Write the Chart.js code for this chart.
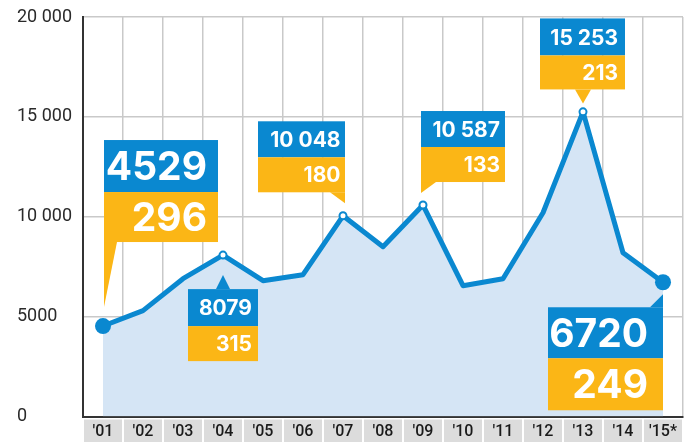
<!DOCTYPE html>
<html>
<head>
<meta charset="utf-8">
<script src="https://cdn.jsdelivr.net/npm/chart.js@4/dist/chart.umd.min.js"></script>
<style>
html,body{margin:0;padding:0;background:#fff;}
canvas{display:block;}
</style>
</head>
<body>
<canvas id="c" width="696" height="442"></canvas>
<script>
// ---- data ----
const categories = ["'01","'02","'03","'04","'05","'06","'07","'08","'09","'10","'11","'12","'13","'14","'15*"];
const values = [4529, 5300, 6900, 8079, 6800, 7100, 10048, 8500, 10587, 6550, 6900, 10200, 15253, 8200, 6720];
const yTickValues = [0, 5000, 10000, 15000, 20000];
const yTickLabels = ['0', '5000', '10 000', '15 000', '20 000'];
const calloutIndex = [0, 3, 6, 8, 12, 14];
const calloutTop = ['4529', '8079', '10 048', '10 587', '15 253', '6720'];
const calloutBottom = ['296', '315', '180', '133', '213', '249'];

// ---- styling ----
const BLUE = '#0a88d0';
const YELLOW = '#fbb616';
const FILL = '#d5e5f5';
const GRID = '#c9c9c9';
const calloutStyle = [
  {dx: 1, dy: -186, w: 114, bh: 52, yh: 50, font: 39, pad: 11, tail: [[1,-84],[14,-84],[1,-19]], tailColor: YELLOW},
  {dx: -35, dy: 34, w: 70, bh: 37, yh: 35, font: 21, pad: 6, tail: [[-7,34],[7,34],[0,20]], tailColor: BLUE},
  {dx: -85, dy: -94.5, w: 87, bh: 36, yh: 35, font: 21, pad: 4.5, tail: [[-13,-23.5],[2,-23.5],[2,-12.5]], tailColor: YELLOW},
  {dx: -2, dy: -94, w: 84, bh: 36, yh: 35, font: 21, pad: 5, tail: [[-2,-23],[13,-23],[-2,-12]], tailColor: YELLOW},
  {dx: -43, dy: -93.4, w: 85, bh: 37, yh: 34, font: 21, pad: 7, tail: [[-8,-22.4],[8,-22.4],[0,-8.4]], tailColor: YELLOW},
  {dx: -115, dy: 25, w: 115, bh: 51, yh: 52, font: 39, pad: 15, tail: [[-13,25],[0,25],[0,12]], tailColor: BLUE}
];
const pointRadius = values.map((v, i) => (i === 0 || i === values.length - 1) ? 8 : (calloutIndex.includes(i) ? 3.5 : 0));
const pointBg = values.map((v, i) => (i === 0 || i === values.length - 1) ? BLUE : '#fff');
const pointBorderW = values.map((v, i) => (i === 0 || i === values.length - 1) ? 0 : 2);

const labelBoxes = {
  id: 'labelBoxes',
  beforeDraw(chart) {
    const ctx = chart.ctx, x = chart.scales.x, area = chart.chartArea;
    ctx.save();
    ctx.fillStyle = '#dcdcdc';
    const n = categories.length;
    for (let i = 0; i < n; i++) {
      const c = x.getPixelForValue(i);
      const half = (x.getPixelForValue(1) - x.getPixelForValue(0)) / 2;
      ctx.fillRect(c - half + 1, area.bottom + 3, half * 2 - 2, chart.height - area.bottom - 3);
    }
    ctx.restore();
  }
};

const callouts = {
  id: 'callouts',
  afterDatasetsDraw(chart) {
    const ctx = chart.ctx, xs = chart.scales.x, ys = chart.scales.y;
    ctx.save();
    calloutIndex.forEach((idx, k) => {
      const s = calloutStyle[k];
      const px = xs.getPixelForValue(idx), py = ys.getPixelForValue(values[idx]);
      const left = px + s.dx, top = py + s.dy;
      ctx.fillStyle = s.tailColor;
      ctx.beginPath();
      s.tail.forEach((p, j) => { if (j === 0) ctx.moveTo(px + p[0], py + p[1]); else ctx.lineTo(px + p[0], py + p[1]); });
      ctx.closePath();
      ctx.fill();
      ctx.fillStyle = BLUE;
      ctx.fillRect(left, top, s.w, s.bh);
      ctx.fillStyle = YELLOW;
      ctx.fillRect(left, top + s.bh, s.w, s.yh);
      ctx.fillStyle = '#fff';
      ctx.font = 'bold ' + s.font + 'px Inter, Roboto, sans-serif';
      ctx.textAlign = 'right';
      ctx.textBaseline = 'alphabetic';
      const cap = s.font * 0.727;
      ctx.fillText(calloutTop[k], left + s.w - s.pad, top + s.bh / 2 + cap / 2);
      ctx.fillText(calloutBottom[k], left + s.w - s.pad, top + s.bh + s.yh / 2 + cap / 2);
    });
    ctx.restore();
  }
};

new Chart(document.getElementById('c'), {
  type: 'line',
  data: {
    labels: categories,
    datasets: [{
      data: values,
      borderColor: BLUE,
      borderWidth: 5,
      backgroundColor: FILL,
      fill: 'origin',
      tension: 0,
      pointRadius: pointRadius,
      pointHoverRadius: pointRadius,
      pointBackgroundColor: pointBg,
      pointBorderColor: BLUE,
      pointBorderWidth: pointBorderW,
      borderJoinStyle: 'round'
    }]
  },
  options: {
    responsive: false,
    devicePixelRatio: 1,
    animation: false,
    events: [],
    layout: {padding: {left: 17, right: 13, top: 17, bottom: 0}},
    plugins: {legend: {display: false}, tooltip: {enabled: false}},
    scales: {
      x: {
        offset: true,
        grid: {offset: true, color: GRID, lineWidth: 1.5, drawTicks: false},
        border: {color: '#333', width: 2},
        ticks: {color: '#1a1a1a', font: {family: 'Roboto', size: 16, weight: '500'}, padding: 6, maxRotation: 0, autoSkip: false},
        afterFit(s) { s.height = 25.5; }
      },
      y: {
        min: 0, max: 20000,
        afterBuildTicks(s) { s.ticks = yTickValues.map(v => ({value: v})); },
        grid: {color: GRID, lineWidth: 1.5, drawTicks: false},
        border: {color: '#333', width: 2},
        ticks: {
          color: '#2a2a2a', font: {family: 'Roboto', size: 18}, padding: 0, crossAlign: 'far',
          callback(v) { const i = yTickValues.indexOf(v); return i >= 0 ? yTickLabels[i] : ''; }
        },
        afterFit(s) { s.width = 66; }
      }
    }
  },
  plugins: [labelBoxes, callouts]
});
</script>
</body>
</html>
